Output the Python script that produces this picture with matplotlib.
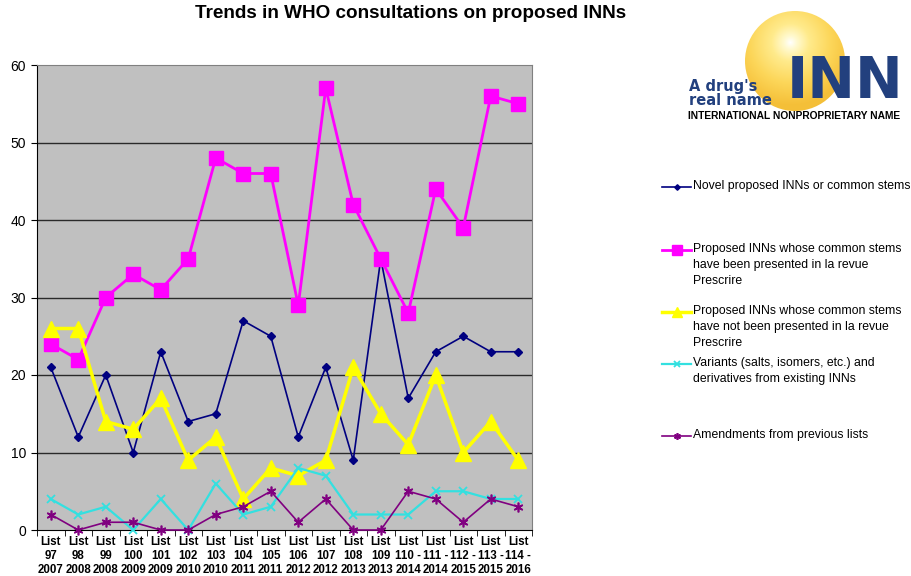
import numpy as np
import matplotlib.pyplot as plt
from matplotlib.patches import Circle

plt.rcParams["font.family"] = ["Liberation Sans", "DejaVu Sans"]

list_labels = [
    "List\n97\n2007", "List\n98\n2008", "List\n99\n2008", "List\n100\n2009",
    "List\n101\n2009", "List\n102\n2010", "List\n103\n2010", "List\n104\n2011",
    "List\n105\n2011", "List\n106\n2012", "List\n107\n2012", "List\n108\n2013",
    "List\n109\n2013", "List\n110 -\n2014", "List\n111 -\n2014", "List\n112 -\n2015",
    "List\n113 -\n2015", "List\n114 -\n2016",
]

novel = [21, 12, 20, 10, 23, 14, 15, 27, 25, 12, 21, 9, 35, 17, 23, 25, 23, 23]
stems_presented = [24, 22, 30, 33, 31, 35, 48, 46, 46, 29, 57, 42, 35, 28, 44, 39, 56, 55]
stems_not_presented = [26, 26, 14, 13, 17, 9, 12, 4, 8, 7, 9, 21, 15, 11, 20, 10, 14, 9]
variants = [4, 2, 3, 0, 4, 0, 6, 2, 3, 8, 7, 2, 2, 2, 5, 5, 4, 4]
amendments = [2, 0, 1, 1, 0, 0, 2, 3, 5, 1, 4, 0, 0, 5, 4, 1, 4, 3]

series_labels = [
    "Novel proposed INNs or common stems",
    "Proposed INNs whose common stems\nhave been presented in la revue\nPrescrire",
    "Proposed INNs whose common stems\nhave not been presented in la revue\nPrescrire",
    "Variants (salts, isomers, etc.) and\nderivatives from existing INNs",
    "Amendments from previous lists",
]

# colour, marker, marker size, line width, marker edge width
styles = [
    ("#000080", "D", 4, 1.2, 1.0),
    ("#FF00FF", "s", 10, 2.0, 1.0),
    ("#FFFF00", "^", 11, 2.5, 1.0),
    ("#33E0E0", "x", 6, 1.6, 1.3),
    ("#800080", (6, 2, 0), 7, 1.2, 1.2),
]

# legend key rows (pixel y of first text line)
legend_rows = [187, 250, 312, 364, 436]


def draw_logo(fig):
    lax = fig.add_axes([680 / 912, 1 - 130 / 576, 232 / 912, 130 / 576])
    lax.set_xlim(0, 232)
    lax.set_ylim(130, 0)
    lax.axis("off")

    cx, cy, r = 115, 61, 50
    hx, hy = 110, 42
    yy, xx = np.mgrid[0:130, 0:232]
    d = np.hypot(xx - hx, yy - hy) / (r * 1.25)
    d = np.clip(d, 0, 1)
    stops = np.array([0.0, 0.1, 0.3, 0.65, 1.0])
    cols = np.array([
        [1.0, 1.0, 1.0],
        [1.0, 0.98, 0.82],
        [1.0, 0.92, 0.55],
        [0.99, 0.84, 0.35],
        [0.96, 0.75, 0.22],
    ])
    img = np.zeros((130, 232, 3))
    for k in range(3):
        img[..., k] = np.interp(d, stops, cols[:, k])
    im = lax.imshow(img, extent=(0, 232, 130, 0), zorder=1)
    clip = Circle((cx, cy), r, transform=lax.transData)
    im.set_clip_path(clip)

    navy = "#22407E"
    lax.text(107, 98, "INN", fontsize=41, fontweight="bold", color=navy,
             ha="left", va="baseline", zorder=3, family="DejaVu Sans")
    lax.text(9, 91, "A drug's", fontsize=10.5, fontweight="bold", color=navy,
             ha="left", va="baseline", zorder=3, family="DejaVu Sans")
    lax.text(9, 105, "real name", fontsize=10.5, fontweight="bold", color=navy,
             ha="left", va="baseline", zorder=3, family="DejaVu Sans")
    lax.text(8, 119, "INTERNATIONAL NONPROPRIETARY NAME", fontsize=7.4,
             fontweight="bold", color="black", ha="left", va="baseline", zorder=3)


def draw_legend(fig):
    gax = fig.add_axes([660 / 912, 1 - 460 / 576, 252 / 912, 300 / 576])
    gax.set_xlim(0, 252)
    gax.set_ylim(460, 160)
    gax.axis("off")
    for (color, marker, ms, lw, mew), label, y in zip(styles, series_labels, legend_rows):
        gax.plot([2, 31], [y, y], color=color, lw=lw)
        gax.plot([16.5], [y], color=color, marker=marker, ms=ms * 0.7,
                 mew=mew, lw=0)
        gax.text(33, y - 7, label, fontsize=8.8, ha="left", va="top",
                 linespacing=1.43, color="black")


def main():
    fig = plt.figure(figsize=(9.12, 5.76), dpi=100)
    ax = fig.add_axes([37 / 912, 46 / 576, 495 / 912, 465 / 576])

    x = np.arange(len(list_labels))
    all_series = [novel, stems_presented, stems_not_presented, variants, amendments]
    order = [3, 4, 2, 0, 1]
    for i in order:
        color, marker, ms, lw, mew = styles[i]
        ax.plot(x, all_series[i], color=color, marker=marker, ms=ms, lw=lw,
                mew=mew, mec=color, mfc=color, zorder=3 + i, clip_on=False)

    ax.set_facecolor("#C0C0C0")
    ax.set_xlim(-0.5, len(list_labels) - 0.5)
    ax.set_ylim(0, 60)
    ax.set_yticks(range(0, 61, 10))
    ax.tick_params(axis="y", labelsize=10, length=4, direction="out", pad=4)
    for yv in range(10, 60, 10):
        ax.axhline(yv, color="#2a2a2a", lw=1.0, zorder=1)

    ax.set_xticks(x)
    ax.set_xticklabels(list_labels, fontsize=8.3, fontweight="bold",
                       linespacing=1.24)
    ax.set_xticks(np.arange(-0.5, len(list_labels), 1), minor=True)
    ax.tick_params(axis="x", which="major", length=0, pad=4)
    ax.tick_params(axis="x", which="minor", length=4, direction="out")

    ax.spines["top"].set_color("#808080")
    ax.spines["right"].set_color("#808080")
    ax.spines["left"].set_color("black")
    ax.spines["bottom"].set_color("black")

    fig.text(411 / 912, 1 - 13 / 576, "Trends in WHO consultations on proposed INNs",
             fontsize=13.6, fontweight="bold", ha="center", va="center")

    draw_legend(fig)
    draw_logo(fig)

    fig.savefig("out.png", dpi=100)
    plt.close(fig)


if __name__ == "__main__":
    main()
